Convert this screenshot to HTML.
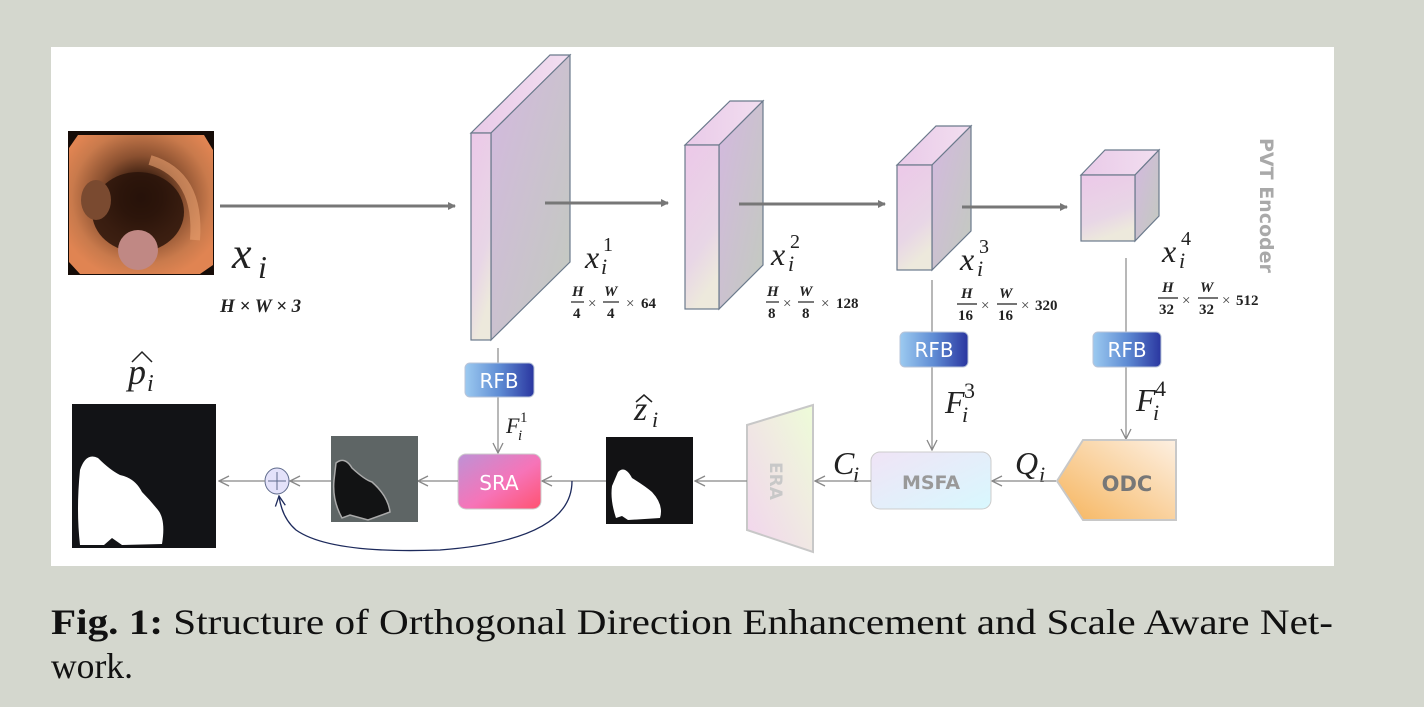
<!DOCTYPE html>
<html><head><meta charset="utf-8"><style>
html,body{margin:0;padding:0;background:#d4d7ce;}
svg{display:block;}
.m{font-family:"Liberation Serif",serif;font-style:italic;fill:#222;}
.d{font-family:"Liberation Serif",serif;font-weight:bold;fill:#222;font-size:15px;}
.b{font-family:"DejaVu Sans","Liberation Sans",sans-serif;fill:#fff;font-size:20px;text-anchor:middle;}
</style></head><body>
<svg width="1424" height="707" viewBox="0 0 1424 707" xmlns="http://www.w3.org/2000/svg">
<defs>
<linearGradient id="fr" x1="0" y1="0" x2="0.3" y2="1"><stop offset="0" stop-color="#ecc8e8"/><stop offset="0.7" stop-color="#e8d6e6"/><stop offset="1" stop-color="#ede9dc"/></linearGradient>
<linearGradient id="sd" x1="0" y1="0" x2="1" y2="1"><stop offset="0" stop-color="#d4b8e0"/><stop offset="1" stop-color="#c2cbbe"/></linearGradient>
<linearGradient id="tp" x1="0" y1="0" x2="1" y2="0"><stop offset="0" stop-color="#e9cae8"/><stop offset="1" stop-color="#f2def0"/></linearGradient>
<linearGradient id="rfb" x1="0" y1="0" x2="1" y2="0"><stop offset="0" stop-color="#9ccaf0"/><stop offset="0.5" stop-color="#5f8cd4"/><stop offset="1" stop-color="#2a36a0"/></linearGradient>
<linearGradient id="sra" x1="0" y1="0" x2="1" y2="1"><stop offset="0" stop-color="#bd92d6"/><stop offset="0.55" stop-color="#f674b8"/><stop offset="1" stop-color="#ff5270"/></linearGradient>
<linearGradient id="msfa" x1="0" y1="0" x2="1" y2="1"><stop offset="0" stop-color="#f0e4f6"/><stop offset="1" stop-color="#d8f8fe"/></linearGradient>
<linearGradient id="odc" x1="0" y1="1" x2="1" y2="0"><stop offset="0" stop-color="#f6b45c"/><stop offset="1" stop-color="#fdf0e2"/></linearGradient>
<linearGradient id="era" x1="0" y1="1" x2="1" y2="0"><stop offset="0" stop-color="#f2d4ee"/><stop offset="1" stop-color="#eefcd8"/></linearGradient>
<radialGradient id="col" cx="0.5" cy="0.45" r="0.6"><stop offset="0" stop-color="#120806"/><stop offset="0.25" stop-color="#3a1e10"/><stop offset="0.5" stop-color="#8a5030"/><stop offset="0.8" stop-color="#c97a4c"/><stop offset="1" stop-color="#e08452"/></radialGradient>
<marker id="ah" markerWidth="8" markerHeight="8" refX="7" refY="4" orient="auto" markerUnits="userSpaceOnUse"><path d="M0,0 L8,4 L0,8 Z" fill="#777"/></marker>
<marker id="oa" markerWidth="12" markerHeight="12" refX="11" refY="6" orient="auto" markerUnits="userSpaceOnUse"><path d="M1,1 L11,6 L1,11" fill="none" stroke="#888" stroke-width="1.3"/></marker>
<marker id="na" markerWidth="12" markerHeight="12" refX="11" refY="6" orient="auto" markerUnits="userSpaceOnUse"><path d="M1,1 L11,6 L1,11" fill="none" stroke="#1d2a5c" stroke-width="1.3"/></marker>
</defs>
<rect x="51" y="47" width="1283" height="519" fill="#fff"/>

<!-- colon image -->
<rect x="68" y="131" width="146" height="144" fill="#160c08"/>
<path d="M78,135 L204,135 L213,150 L213,265 L200,274 L80,274 L69,262 L69,148 Z" fill="url(#col)"/>
<ellipse cx="138" cy="212" rx="46" ry="40" fill="#2a140a" opacity="0.85"/>
<ellipse cx="138" cy="250" rx="20" ry="20" fill="#c08884"/>
<ellipse cx="96" cy="200" rx="15" ry="20" fill="#7a4a30"/>
<path d="M150,160 Q200,175 195,240" fill="none" stroke="#e8a070" stroke-width="10" opacity="0.6"/>

<line x1="220" y1="206" x2="455" y2="206" stroke="#777" stroke-width="3" marker-end="url(#ah)"/>

<!-- block1 -->
<polygon points="471,133 550,55 570,55 491,133" fill="url(#tp)" stroke="#6b7a8c" stroke-width="1.2"/>
<polygon points="491,133 570,55 570,262 491,340" fill="url(#sd)" stroke="#6b7a8c" stroke-width="1.2"/>
<rect x="471" y="133" width="20" height="207" fill="url(#fr)" stroke="#6b7a8c" stroke-width="1.2"/>
<line x1="545" y1="203" x2="668" y2="203" stroke="#777" stroke-width="3" marker-end="url(#ah)"/>
<!-- block2 -->
<polygon points="685,145 730,101 763,101 719,145" fill="url(#tp)" stroke="#6b7a8c" stroke-width="1.2"/>
<polygon points="719,145 763,101 763,265 719,309" fill="url(#sd)" stroke="#6b7a8c" stroke-width="1.2"/>
<rect x="685" y="145" width="34" height="164" fill="url(#fr)" stroke="#6b7a8c" stroke-width="1.2"/>
<line x1="739" y1="204" x2="885" y2="204" stroke="#777" stroke-width="3" marker-end="url(#ah)"/>
<!-- block3 -->
<polygon points="897,165 936,126 971,126 932,165" fill="url(#tp)" stroke="#6b7a8c" stroke-width="1.2"/>
<polygon points="932,165 971,126 971,231 932,270" fill="url(#sd)" stroke="#6b7a8c" stroke-width="1.2"/>
<rect x="897" y="165" width="35" height="105" fill="url(#fr)" stroke="#6b7a8c" stroke-width="1.2"/>
<line x1="962" y1="207" x2="1067" y2="207" stroke="#777" stroke-width="3" marker-end="url(#ah)"/>
<!-- block4 -->
<polygon points="1081,175 1105,150 1159,150 1135,175" fill="url(#tp)" stroke="#6b7a8c" stroke-width="1.2"/>
<polygon points="1135,175 1159,150 1159,216 1135,241" fill="url(#sd)" stroke="#6b7a8c" stroke-width="1.2"/>
<rect x="1081" y="175" width="54" height="66" fill="url(#fr)" stroke="#6b7a8c" stroke-width="1.2"/>

<text x="1260" y="138" transform="rotate(90 1260 138)" font-family="DejaVu Sans,Liberation Sans,sans-serif" font-weight="bold" font-size="19" fill="#a9a9a9">PVT Encoder</text>

<!-- labels -->
<text class="m" x="232" y="268" font-size="44">x</text><text class="m" x="258" y="278" font-size="32">i</text>
<text class="d" x="220" y="312" style="font-size:19px;font-style:italic">H × W × 3</text>

<g class="m"><text x="585" y="268" font-size="32">x</text><text x="601" y="274" font-size="22">i</text><text x="603" y="251" font-size="20" font-style="normal">1</text></g>
<g class="m"><text x="771" y="265" font-size="32">x</text><text x="788" y="271" font-size="22">i</text><text x="790" y="248" font-size="20" font-style="normal">2</text></g>
<g class="m"><text x="960" y="270" font-size="32">x</text><text x="977" y="276" font-size="22">i</text><text x="979" y="253" font-size="20" font-style="normal">3</text></g>
<g class="m"><text x="1162" y="262" font-size="32">x</text><text x="1179" y="268" font-size="22">i</text><text x="1181" y="245" font-size="20" font-style="normal">4</text></g>

<!-- dims -->
<g class="d">
<g transform="translate(571,0)">
<text x="1" y="296" font-style="italic">H</text><line x1="0" y1="302" x2="13" y2="302" stroke="#222" stroke-width="1.2"/><text x="2" y="318">4</text>
<text x="17" y="308" font-weight="normal" fill="#444">×</text>
<text x="33" y="296" font-style="italic">W</text><line x1="32" y1="302" x2="48" y2="302" stroke="#222" stroke-width="1.2"/><text x="36" y="318">4</text>
<text x="55" y="308" font-weight="normal" fill="#444">×</text><text x="70" y="308">64</text>
</g>
<g transform="translate(766,0)">
<text x="1" y="296" font-style="italic">H</text><line x1="0" y1="302" x2="13" y2="302" stroke="#222" stroke-width="1.2"/><text x="2" y="318">8</text>
<text x="17" y="308" font-weight="normal" fill="#444">×</text>
<text x="33" y="296" font-style="italic">W</text><line x1="32" y1="302" x2="48" y2="302" stroke="#222" stroke-width="1.2"/><text x="36" y="318">8</text>
<text x="55" y="308" font-weight="normal" fill="#444">×</text><text x="70" y="308">128</text>
</g>
<g transform="translate(957,0)">
<text x="4" y="298" font-style="italic">H</text><line x1="0" y1="304" x2="20" y2="304" stroke="#222" stroke-width="1.2"/><text x="1" y="320">16</text>
<text x="24" y="310" font-weight="normal" fill="#444">×</text>
<text x="42" y="298" font-style="italic">W</text><line x1="40" y1="304" x2="60" y2="304" stroke="#222" stroke-width="1.2"/><text x="41" y="320">16</text>
<text x="64" y="310" font-weight="normal" fill="#444">×</text><text x="78" y="310">320</text>
</g>
<g transform="translate(1158,0)">
<text x="4" y="292" font-style="italic">H</text><line x1="0" y1="298" x2="20" y2="298" stroke="#222" stroke-width="1.2"/><text x="1" y="314">32</text>
<text x="24" y="305" font-weight="normal" fill="#444">×</text>
<text x="42" y="292" font-style="italic">W</text><line x1="40" y1="298" x2="60" y2="298" stroke="#222" stroke-width="1.2"/><text x="41" y="314">32</text>
<text x="64" y="305" font-weight="normal" fill="#444">×</text><text x="78" y="305">512</text>
</g>
</g>

<!-- vertical lines -->
<line x1="498" y1="348" x2="498" y2="364" stroke="#888" stroke-width="1.2"/>
<line x1="498" y1="397" x2="498" y2="453" stroke="#888" stroke-width="1.2" marker-end="url(#oa)"/>
<line x1="932" y1="280" x2="932" y2="332" stroke="#888" stroke-width="1.2"/>
<line x1="932" y1="367" x2="932" y2="450" stroke="#888" stroke-width="1.2" marker-end="url(#oa)"/>
<line x1="1126" y1="258" x2="1126" y2="332" stroke="#888" stroke-width="1.2"/>
<line x1="1126" y1="367" x2="1126" y2="439" stroke="#888" stroke-width="1.2" marker-end="url(#oa)"/>

<!-- RFBs -->
<rect x="465" y="363" width="69" height="34" rx="5" fill="url(#rfb)" stroke="#b9c4d8"/>
<text class="b" x="499" y="388">RFB</text>
<rect x="900" y="332" width="68" height="35" rx="5" fill="url(#rfb)" stroke="#b9c4d8"/>
<text class="b" x="934" y="357">RFB</text>
<rect x="1093" y="332" width="68" height="35" rx="5" fill="url(#rfb)" stroke="#b9c4d8"/>
<text class="b" x="1127" y="357">RFB</text>

<!-- F labels -->
<g class="m"><text x="506" y="433" font-size="22">F</text><text x="518" y="440" font-size="15">i</text><text x="520" y="422" font-size="15" font-style="normal">1</text></g>
<g class="m"><text x="945" y="413" font-size="32">F</text><text x="962" y="422" font-size="22">i</text><text x="964" y="398" font-size="22" font-style="normal">3</text></g>
<g class="m"><text x="1136" y="411" font-size="32">F</text><text x="1153" y="420" font-size="22">i</text><text x="1155" y="396" font-size="22" font-style="normal">4</text></g>

<!-- bottom row -->
<polygon points="1057,481 1083,440 1176,440 1176,520 1083,520" fill="url(#odc)" stroke="#c8c8c8" stroke-width="2"/>
<text x="1127" y="491" text-anchor="middle" font-family="DejaVu Sans,sans-serif" font-weight="bold" font-size="21" fill="#777">ODC</text>
<g class="m"><text x="1015" y="474" font-size="32">Q</text><text x="1039" y="482" font-size="22">i</text></g>
<line x1="1056" y1="481" x2="992" y2="481" stroke="#888" stroke-width="1.3" marker-end="url(#oa)"/>
<rect x="871" y="452" width="120" height="57" rx="9" fill="url(#msfa)" stroke="#ccc"/>
<text x="931" y="489" text-anchor="middle" font-family="DejaVu Sans,sans-serif" font-weight="bold" font-size="19" fill="#999">MSFA</text>
<g class="m"><text x="833" y="474" font-size="32">C</text><text x="853" y="482" font-size="22">i</text></g>
<line x1="871" y1="481" x2="815" y2="481" stroke="#888" stroke-width="1.3" marker-end="url(#oa)"/>
<polygon points="747,425 813,405 813,552 747,530" fill="url(#era)" stroke="#c8c8c8" stroke-width="2"/>
<text x="770" y="462" transform="rotate(90 770 462)" font-family="DejaVu Sans,sans-serif" font-weight="bold" font-size="17" fill="#c8c8c8">ERA</text>
<line x1="747" y1="481" x2="695" y2="481" stroke="#888" stroke-width="1.3" marker-end="url(#oa)"/>

<!-- z image -->
<rect x="606" y="437" width="87" height="87" fill="#121214"/>
<path d="M618,472 Q625,465 632,478 Q645,486 652,492 Q664,505 660,518 L628,520 L622,516 L616,518 Q610,500 612,486 Z" fill="#fff"/>
<g class="m"><text x="634" y="420" font-size="34">z</text><text x="652" y="427" font-size="22">i</text><path d="M636,402 L644,395 L652,402" fill="none" stroke="#222" stroke-width="1.5"/></g>

<line x1="606" y1="481" x2="542" y2="481" stroke="#888" stroke-width="1.3" marker-end="url(#oa)"/>
<rect x="458" y="454" width="83" height="55" rx="8" fill="url(#sra)" stroke="#ccc"/>
<text class="b" x="499" y="490" font-size="22">SRA</text>
<line x1="458" y1="481" x2="418" y2="481" stroke="#888" stroke-width="1.3" marker-end="url(#oa)"/>

<!-- gray image -->
<rect x="331" y="436" width="87" height="86" fill="#5e6565"/>
<path d="M336,463 Q345,456 352,468 Q365,480 372,482 Q388,496 390,512 L368,520 L350,515 L342,518 Q332,500 334,480 Z" fill="#121314" stroke="#aaa" stroke-width="1.5"/>
<line x1="331" y1="481" x2="290" y2="481" stroke="#888" stroke-width="1.3" marker-end="url(#oa)"/>
<ellipse cx="277" cy="481" rx="12" ry="13" fill="#e4e2fa" stroke="#5f6b8c"/>
<line x1="277" y1="472" x2="277" y2="490" stroke="#5f6b8c"/><line x1="268" y1="481" x2="286" y2="481" stroke="#5f6b8c"/>
<line x1="265" y1="481" x2="219" y2="481" stroke="#888" stroke-width="1.3" marker-end="url(#oa)"/>
<path d="M572,481 Q572,540 440,550 Q330,554 296,530 Q282,518 279,496" fill="none" stroke="#1d2a5c" stroke-width="1.3" marker-end="url(#na)"/>

<!-- p image -->
<rect x="72" y="404" width="144" height="144" fill="#121316"/>
<path d="M80,470 Q86,452 98,458 Q110,470 120,475 Q135,478 142,492 Q150,500 158,510 Q166,520 162,544 L122,545 L112,538 L104,545 L80,545 Q76,510 80,470 Z" fill="#fff"/>
<g class="m"><text x="128" y="384" font-size="36">p</text><text x="147" y="391" font-size="24">i</text><path d="M132,362 L142,352 L152,362" fill="none" stroke="#222" stroke-width="1.5"/></g>

<!-- caption -->
<text x="51" y="634" font-family="Liberation Serif,serif" font-size="36" fill="#111" textLength="1282" lengthAdjust="spacingAndGlyphs"><tspan font-weight="bold">Fig. 1:</tspan> Structure of Orthogonal Direction Enhancement and Scale Aware Net-</text>
<text x="51" y="678" font-family="Liberation Serif,serif" font-size="36" fill="#111" textLength="82" lengthAdjust="spacingAndGlyphs">work.</text>
</svg>
</body></html>
